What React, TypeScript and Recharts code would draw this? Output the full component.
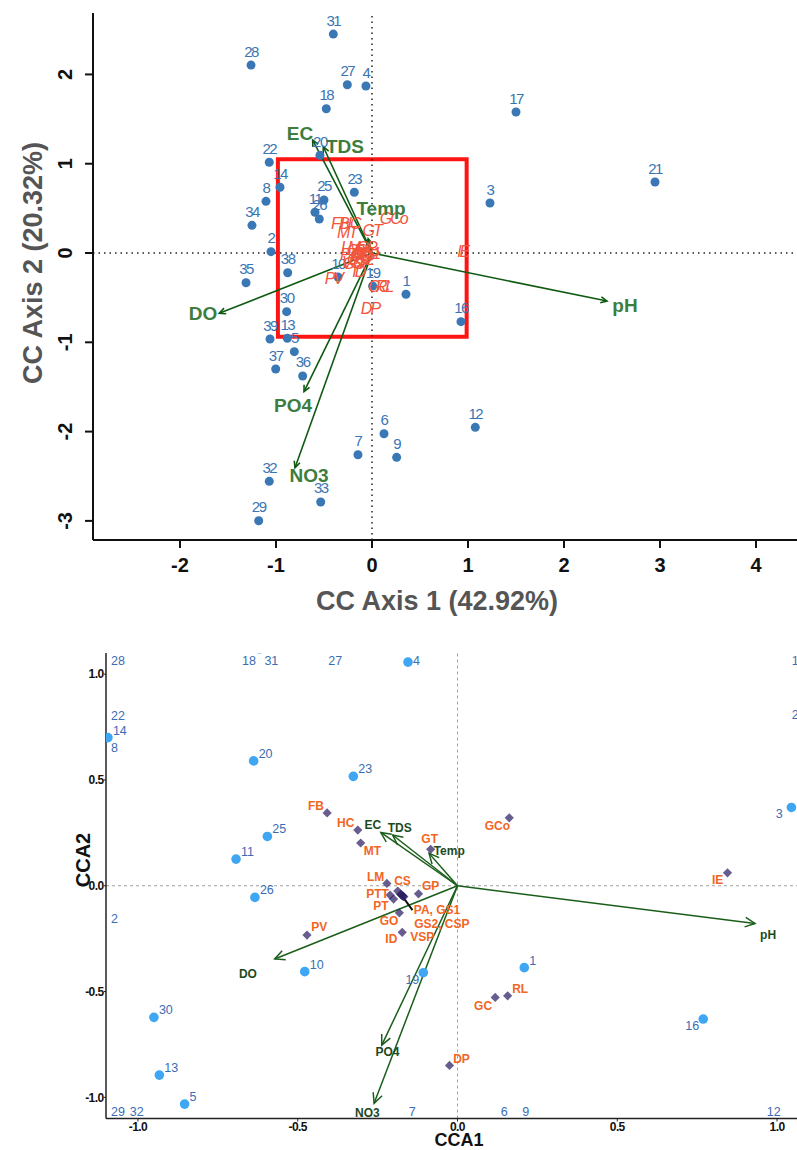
import React from "react";
import {
  ScatterChart,
  Scatter,
  XAxis,
  YAxis,
  ReferenceLine,
  ReferenceArea,
} from "recharts";

const FONT = "'Liberation Sans', Arial, Helvetica, sans-serif";

// ---------- top panel: CC Axis 1 / CC Axis 2 ----------
const TOP_X_DOMAIN = [-2.906, 4.427];
const TOP_Y_DOMAIN = [-3.214, 2.688];
const TOP_X_TICKS = [-2, -1, 0, 1, 2, 3, 4];
const TOP_Y_TICKS = [-3, -2, -1, 0, 1, 2];

const TOP_SITES = [
  { id: "31", x: -0.403, y: 2.452 },
  { id: "28", x: -1.26, y: 2.105 },
  { id: "27", x: -0.257, y: 1.885 },
  { id: "4", x: -0.063, y: 1.87 },
  { id: "18", x: -0.476, y: 1.616 },
  { id: "17", x: 1.5, y: 1.579 },
  { id: "20", x: -0.542, y: 1.094 },
  { id: "22", x: -1.07, y: 1.016 },
  { id: "21", x: 2.948, y: 0.795 },
  { id: "14", x: -0.958, y: 0.736 },
  { id: "8", x: -1.104, y: 0.579 },
  { id: "25", x: -0.5, y: 0.594 },
  { id: "23", x: -0.184, y: 0.68 },
  { id: "3", x: 1.229, y: 0.56 },
  { id: "11", x: -0.594, y: 0.456 },
  { id: "26", x: -0.549, y: 0.381 },
  { id: "34", x: -1.25, y: 0.31 },
  { id: "2", x: -1.052, y: 0.015 },
  { id: "38", x: -0.878, y: -0.221 },
  { id: "35", x: -1.312, y: -0.333 },
  { id: "10", x: -0.354, y: -0.269 },
  { id: "19", x: 0.007, y: -0.37 },
  { id: "1", x: 0.354, y: -0.462 },
  { id: "30", x: -0.889, y: -0.657 },
  { id: "16", x: 0.927, y: -0.769 },
  { id: "39", x: -1.062, y: -0.963 },
  { id: "13", x: -0.882, y: -0.955 },
  { id: "5", x: -0.809, y: -1.105 },
  { id: "37", x: -1.003, y: -1.299 },
  { id: "36", x: -0.722, y: -1.377 },
  { id: "6", x: 0.125, y: -2.024 },
  { id: "12", x: 1.076, y: -1.952 },
  { id: "7", x: -0.146, y: -2.259 },
  { id: "9", x: 0.257, y: -2.288 },
  { id: "32", x: -1.07, y: -2.557 },
  { id: "33", x: -0.534, y: -2.788 },
  { id: "29", x: -1.18, y: -2.998 },
];

const TOP_SPECIES = [
  { name: "FB", x: -0.34, y: 0.333 },
  { name: "HC", x: -0.23, y: 0.333 },
  { name: "MT", x: -0.264, y: 0.227 },
  { name: "GT", x: -0.003, y: 0.258 },
  { name: "GCo", x: 0.222, y: 0.389 },
  { name: "IE", x: 0.945, y: 0.015 },
  { name: "LM", x: -0.229, y: 0.067 },
  { name: "CS", x: -0.167, y: 0.034 },
  { name: "PTT", x: -0.208, y: -0.011 },
  { name: "PT", x: -0.146, y: -0.045 },
  { name: "PA", x: -0.104, y: 0.034 },
  { name: "GS1", x: -0.062, y: 0.0 },
  { name: "GS2", x: -0.125, y: -0.067 },
  { name: "CSP", x: -0.083, y: -0.022 },
  { name: "GP", x: -0.062, y: 0.067 },
  { name: "VSP", x: -0.177, y: -0.1 },
  { name: "GO", x: -0.198, y: -0.112 },
  { name: "ID", x: -0.143, y: -0.209 },
  { name: "PV", x: -0.403, y: -0.283 },
  { name: "GC", x: 0.062, y: -0.377 },
  { name: "RL", x: 0.125, y: -0.377 },
  { name: "DP", x: -0.021, y: -0.619 },
];

const TOP_ENV = [
  { name: "EC", x: -0.618, y: 1.265, lx: -0.75, ly: 1.344 },
  { name: "TDS", x: -0.507, y: 1.19, lx: -0.281, ly: 1.19 },
  { name: "Temp", x: -0.04, y: 0.16, lx: 0.094, ly: 0.504 },
  { name: "pH", x: 2.448, y: -0.538, lx: 2.635, ly: -0.582 },
  { name: "DO", x: -1.591, y: -0.675, lx: -1.76, ly: -0.672 },
  { name: "PO4", x: -0.708, y: -1.553, lx: -0.823, ly: -1.702 },
  { name: "NO3", x: -0.802, y: -2.404, lx: -0.656, ly: -2.494 },
];

// zoom window drawn on the top panel
const TOP_BOX = { x1: -0.98, x2: 0.986, y1: -0.937, y2: 1.05 };

// ---------- bottom panel: CCA1 / CCA2 ----------
const BOT_X_DOMAIN = [-1.1, 1.1];
const BOT_Y_DOMAIN = [-1.1, 1.1];
const BOT_X_TICKS = [-1, -0.5, 0, 0.5, 1];
const BOT_Y_TICKS = [-1, -0.5, 0, 0.5, 1];

const BOT_SITES = [
  { id: "28", x: -1.13, y: 1.13 },
  { id: "18", x: -0.69, y: 1.2 },
  { id: "31", x: -0.62, y: 1.12 },
  { id: "27", x: -0.42, y: 1.125 },
  { id: "4", x: -0.155, y: 1.057 },
  { id: "17", x: 1.5, y: 1.58 },
  { id: "22", x: -1.12, y: 0.77 },
  { id: "14", x: -1.094, y: 0.7 },
  { id: "8", x: -1.12, y: 0.62 },
  { id: "21", x: 1.5, y: 0.775 },
  { id: "20", x: -0.638, y: 0.59 },
  { id: "23", x: -0.326, y: 0.517 },
  { id: "3", x: 1.045, y: 0.37 },
  { id: "25", x: -0.595, y: 0.233 },
  { id: "11", x: -0.693, y: 0.126 },
  { id: "26", x: -0.634, y: -0.055 },
  { id: "2", x: -1.15, y: -0.19 },
  { id: "10", x: -0.478, y: -0.406 },
  { id: "19", x: -0.107, y: -0.411 },
  { id: "1", x: 0.209, y: -0.387 },
  { id: "30", x: -0.95, y: -0.622 },
  { id: "16", x: 0.769, y: -0.63 },
  { id: "13", x: -0.933, y: -0.895 },
  { id: "5", x: -0.854, y: -1.032 },
  { id: "29", x: -1.13, y: -1.3 },
  { id: "32", x: -1.041, y: -1.25 },
  { id: "7", x: -0.168, y: -1.3 },
  { id: "6", x: 0.12, y: -1.3 },
  { id: "9", x: 0.187, y: -1.3 },
  { id: "12", x: 0.952, y: -1.3 },
];

const BOT_SPECIES = [
  { name: "FB", x: -0.408, y: 0.344 },
  { name: "HC", x: -0.312, y: 0.263 },
  { name: "MT", x: -0.303, y: 0.202 },
  { name: "GT", x: -0.084, y: 0.172 },
  { name: "GCo", x: 0.162, y: 0.321 },
  { name: "IE", x: 0.845, y: 0.061 },
  { name: "LM", x: -0.221, y: 0.011 },
  { name: "CS", x: -0.187, y: -0.025 },
  { name: "PTT", x: -0.211, y: -0.044 },
  { name: "PT", x: -0.2, y: -0.063 },
  { name: "PA", x: -0.175, y: -0.044 },
  { name: "GS1", x: -0.17, y: -0.05 },
  { name: "GS2", x: -0.178, y: -0.04 },
  { name: "CSP", x: -0.172, y: -0.047 },
  { name: "VSP", x: -0.168, y: -0.052 },
  { name: "GP", x: -0.122, y: -0.038 },
  { name: "GO", x: -0.182, y: -0.128 },
  { name: "ID", x: -0.173, y: -0.22 },
  { name: "PV", x: -0.471, y: -0.233 },
  { name: "RL", x: 0.157, y: -0.52 },
  { name: "GC", x: 0.118, y: -0.528 },
  { name: "DP", x: -0.025, y: -0.849 },
];

const BOT_SPECIES_LABELS = [
  { text: "FB", x: -0.443, y: 0.378 },
  { text: "HC", x: -0.35, y: 0.298 },
  { text: "MT", x: -0.266, y: 0.164 },
  { text: "GT", x: -0.087, y: 0.221 },
  { text: "GCo", x: 0.125, y: 0.282 },
  { text: "IE", x: 0.814, y: 0.027 },
  { text: "LM", x: -0.256, y: 0.043 },
  { text: "CS", x: -0.172, y: 0.022 },
  { text: "PTT", x: -0.25, y: -0.039 },
  { text: "PT", x: -0.24, y: -0.096 },
  { text: "GP", x: -0.084, y: -0.001 },
  { text: "PA, GS1", x: -0.064, y: -0.112 },
  { text: "GS2, CSP", x: -0.049, y: -0.178 },
  { text: "VSP", x: -0.11, y: -0.241 },
  { text: "GO", x: -0.214, y: -0.167 },
  { text: "ID", x: -0.207, y: -0.253 },
  { text: "PV", x: -0.433, y: -0.195 },
  { text: "RL", x: 0.196, y: -0.485 },
  { text: "GC", x: 0.08, y: -0.569 },
  { text: "DP", x: 0.0125, y: -0.816 },
];

const BOT_ENV = [
  { name: "EC", x: -0.24, y: 0.252, lx: -0.265, ly: 0.287 },
  { name: "TDS", x: -0.203, y: 0.24, lx: -0.181, ly: 0.274 },
  { name: "Temp", x: -0.089, y: 0.153, lx: -0.026, ly: 0.165 },
  { name: "pH", x: 0.931, y: -0.178, lx: 0.972, ly: -0.233 },
  { name: "DO", x: -0.572, y: -0.346, lx: -0.656, ly: -0.414 },
  { name: "PO4", x: -0.237, y: -0.753, lx: -0.219, ly: -0.787 },
  { name: "NO3", x: -0.261, y: -1.028, lx: -0.282, ly: -1.071 },
];

// leader from the overlapping cluster to the "PA, GS1" label
const BOT_LEADER = [
  { x: -0.175, y: -0.044 },
  { x: -0.141, y: -0.115 },
];

const LABEL_LEFT = new Set(["19", "16", "3"]);

const clamp = (v: number, lo: number, hi: number) => Math.min(hi, Math.max(lo, v));

const botSiteLabels = BOT_SITES.map((s) => ({
  id: s.id,
  x: clamp(s.x, -1.1, 1.03),
  y: clamp(s.y, -1.1, 1.03),
}));

function arrow(color: string, width: number, head: number, spread: number) {
  return (p: any) => {
    const { x1, y1, x2, y2 } = p;
    const a = Math.atan2(y2 - y1, x2 - x1);
    const ax = x2 - head * Math.cos(a - spread);
    const ay = y2 - head * Math.sin(a - spread);
    const bx = x2 - head * Math.cos(a + spread);
    const by = y2 - head * Math.sin(a + spread);
    return (
      <g>
        <line x1={x1} y1={y1} x2={x2} y2={y2} stroke={color} strokeWidth={width} />
        <polyline
          points={`${ax},${ay} ${x2},${y2} ${bx},${by}`}
          fill="none"
          stroke={color}
          strokeWidth={width}
        />
      </g>
    );
  };
}

const TopYTick = (p: any) => (
  <text
    x={p.x}
    y={p.y}
    transform={`rotate(-90 ${p.x} ${p.y})`}
    textAnchor="middle"
    fontFamily={FONT}
    fontSize={20}
    fontWeight={700}
    fill="#111"
  >
    {p.payload.value}
  </text>
);

export default function App() {
  return (
    <div
      style={{
        position: "absolute",
        left: 0,
        top: 0,
        width: 797,
        height: 1150,
        overflow: "hidden",
        background: "#fff",
        fontFamily: FONT,
      }}
    >
      {/* top panel */}
      <div style={{ position: "absolute", left: 0, top: 0 }}>
        <ScatterChart width={797} height={625} margin={{ top: 13, right: 0, bottom: 0, left: 0 }}>
          <XAxis
            type="number"
            dataKey="x"
            domain={TOP_X_DOMAIN}
            ticks={TOP_X_TICKS}
            allowDataOverflow
            height={85}
            axisLine={{ stroke: "#111", strokeWidth: 2 }}
            tickLine={{ stroke: "#111", strokeWidth: 2 }}
            tickSize={8}
            tickMargin={10}
            tick={{ fontSize: 20, fontWeight: 700, fill: "#111", fontFamily: FONT }}
            label={() => (
              <text x={437} y={610} textAnchor="middle" fontFamily={FONT} fontSize={27} fontWeight={700} fill="#555">
                CC Axis 1 (42.92%)
              </text>
            )}
          />
          <XAxis
            xAxisId="top"
            orientation="top"
            type="number"
            domain={TOP_X_DOMAIN}
            allowDataOverflow
            height={0}
            tick={false}
            tickLine={false}
            axisLine={{ stroke: "#111", strokeWidth: 2 }}
          />
          <YAxis
            type="number"
            dataKey="y"
            domain={TOP_Y_DOMAIN}
            ticks={TOP_Y_TICKS}
            allowDataOverflow
            width={93}
            axisLine={{ stroke: "#111", strokeWidth: 2 }}
            tickLine={{ stroke: "#111", strokeWidth: 2 }}
            tickSize={8}
            tickMargin={13}
            tick={(p: any) => <TopYTick {...p} />}
            label={() => (
              <text
                x={42}
                y={263}
                transform="rotate(-90 42 263)"
                textAnchor="middle"
                fontFamily={FONT}
                fontSize={27}
                fontWeight={700}
                fill="#555"
              >
                CC Axis 2 (20.32%)
              </text>
            )}
          />
          <ReferenceLine x={0} stroke="#222" strokeWidth={1.5} strokeDasharray="1.5 4" />
          <ReferenceLine y={0} stroke="#222" strokeWidth={1.5} strokeDasharray="1.5 4" />
          <Scatter
            data={TOP_SITES}
            isAnimationActive={false}
            shape={(p: any) => (
              <g>
                <circle cx={p.cx} cy={p.cy} r={4.5} fill="#3a77b5" />
                <text
                  x={p.cx}
                  y={p.cy - 8.5}
                  textAnchor="middle"
                  fontFamily={FONT}
                  fontSize={15}
                  letterSpacing={-1.5}
                  fill="#3a75b3"
                >
                  {p.payload.id}
                </text>
              </g>
            )}
          />
          {TOP_ENV.map((e) => (
            <ReferenceLine
              key={"ta" + e.name}
              segment={[{ x: 0, y: 0 }, { x: e.x, y: e.y }]}
              shape={arrow("#0e5a12", 1.6, 7, Math.PI / 7)}
            />
          ))}
          <ReferenceArea
            x1={TOP_BOX.x1}
            x2={TOP_BOX.x2}
            y1={TOP_BOX.y1}
            y2={TOP_BOX.y2}
            fill="none"
            fillOpacity={0}
            stroke="#ff1414"
            strokeWidth={4}
          />
          <Scatter
            data={TOP_SPECIES}
            isAnimationActive={false}
            shape={(p: any) => (
              <text
                x={p.cx}
                y={p.cy}
                dy="0.35em"
                textAnchor="middle"
                fontFamily={FONT}
                fontSize={16}
                fontStyle="italic"
                letterSpacing={-2}
                fill="#f2553c"
              >
                {p.payload.name}
              </text>
            )}
          />
          <Scatter
            data={TOP_ENV.map((e) => ({ name: e.name, x: e.lx, y: e.ly }))}
            isAnimationActive={false}
            shape={(p: any) => (
              <text
                x={p.cx}
                y={p.cy}
                dy="0.35em"
                textAnchor="middle"
                fontFamily={FONT}
                fontSize={19}
                fontWeight={700}
                fill="#3d7d3d"
              >
                {p.payload.name}
              </text>
            )}
          />
        </ScatterChart>
      </div>

      {/* bottom panel */}
      <div style={{ position: "absolute", left: 0, top: 630 }}>
        <ScatterChart width={809} height={520} margin={{ top: 23, right: 0, bottom: 0, left: 0 }}>
          <XAxis
            type="number"
            dataKey="x"
            domain={BOT_X_DOMAIN}
            ticks={BOT_X_TICKS}
            allowDataOverflow
            height={31.5}
            axisLine={{ stroke: "#222", strokeWidth: 1.5 }}
            tickLine={{ stroke: "#222" }}
            tickSize={3}
            tickMargin={1}
            tickFormatter={(v: number) => v.toFixed(1)}
            tick={{ fontSize: 12, fontWeight: 700, fill: "#111", fontFamily: FONT, letterSpacing: -0.6 }}
            label={() => (
              <text x={459} y={516} textAnchor="middle" fontFamily={FONT} fontSize={18} fontWeight={700} fill="#111">
                CCA1
              </text>
            )}
          />
          <YAxis
            type="number"
            dataKey="y"
            domain={BOT_Y_DOMAIN}
            ticks={BOT_Y_TICKS}
            allowDataOverflow
            width={106}
            axisLine={{ stroke: "#222", strokeWidth: 1.5 }}
            tickLine={{ stroke: "#222" }}
            tickSize={2}
            tickMargin={0.5}
            tickFormatter={(v: number) => v.toFixed(1)}
            tick={{ fontSize: 12, fontWeight: 700, fill: "#111", fontFamily: FONT, letterSpacing: -0.6 }}
            label={() => (
              <text
                x={90}
                y={230}
                transform="rotate(-90 90 230)"
                textAnchor="middle"
                fontFamily={FONT}
                fontSize={20}
                fontWeight={700}
                fill="#111"
              >
                CCA2
              </text>
            )}
          />
          <ReferenceLine x={0} stroke="#a0a0a0" strokeWidth={1} strokeDasharray="3 3" />
          <ReferenceLine y={0} stroke="#a0a0a0" strokeWidth={1} strokeDasharray="3 3" />
          <Scatter
            data={BOT_SITES}
            isAnimationActive={false}
            shape={(p: any) => <circle cx={p.cx} cy={p.cy} r={4.8} fill="#3ea6f2" />}
          />
          <Scatter
            data={botSiteLabels}
            isAnimationActive={false}
            shape={(p: any) => {
              const left = LABEL_LEFT.has(p.payload.id);
              return (
                <text
                  x={left ? p.cx - 4 : p.cx + 5}
                  y={left ? p.cy + 11 : p.cy - 3}
                  textAnchor={left ? "end" : "start"}
                  fontFamily={FONT}
                  fontSize={12.5}
                  fill="#3a6db4"
                >
                  {p.payload.id}
                </text>
              );
            }}
          />
          {BOT_ENV.map((e) => (
            <ReferenceLine
              key={"ba" + e.name}
              segment={[{ x: 0, y: 0 }, { x: e.x, y: e.y }]}
              shape={arrow("#1a5e1a", 1.5, 11, Math.PI / 7)}
            />
          ))}
          <ReferenceLine
            segment={BOT_LEADER}
            stroke="#111"
            strokeWidth={2}
          />
          <Scatter
            data={BOT_SPECIES}
            isAnimationActive={false}
            shape={(p: any) => (
              <polygon
                points={`${p.cx},${p.cy - 4.6} ${p.cx + 4.6},${p.cy} ${p.cx},${p.cy + 4.6} ${p.cx - 4.6},${p.cy}`}
                fill="#2c2064"
                fillOpacity={0.72}
              />
            )}
          />
          <Scatter
            data={BOT_SPECIES_LABELS}
            isAnimationActive={false}
            shape={(p: any) => (
              <text
                x={p.cx}
                y={p.cy}
                dy="0.35em"
                textAnchor="middle"
                fontFamily={FONT}
                fontSize={12}
                fontWeight={700}
                fill="#f2661f"
              >
                {p.payload.text}
              </text>
            )}
          />
          <Scatter
            data={BOT_ENV.map((e) => ({ name: e.name, x: e.lx, y: e.ly }))}
            isAnimationActive={false}
            shape={(p: any) => (
              <text
                x={p.cx}
                y={p.cy}
                dy="0.35em"
                textAnchor="middle"
                fontFamily={FONT}
                fontSize={12}
                fontWeight={700}
                fill="#1d4a1d"
              >
                {p.payload.name}
              </text>
            )}
          />
        </ScatterChart>
      </div>
    </div>
  );
}
